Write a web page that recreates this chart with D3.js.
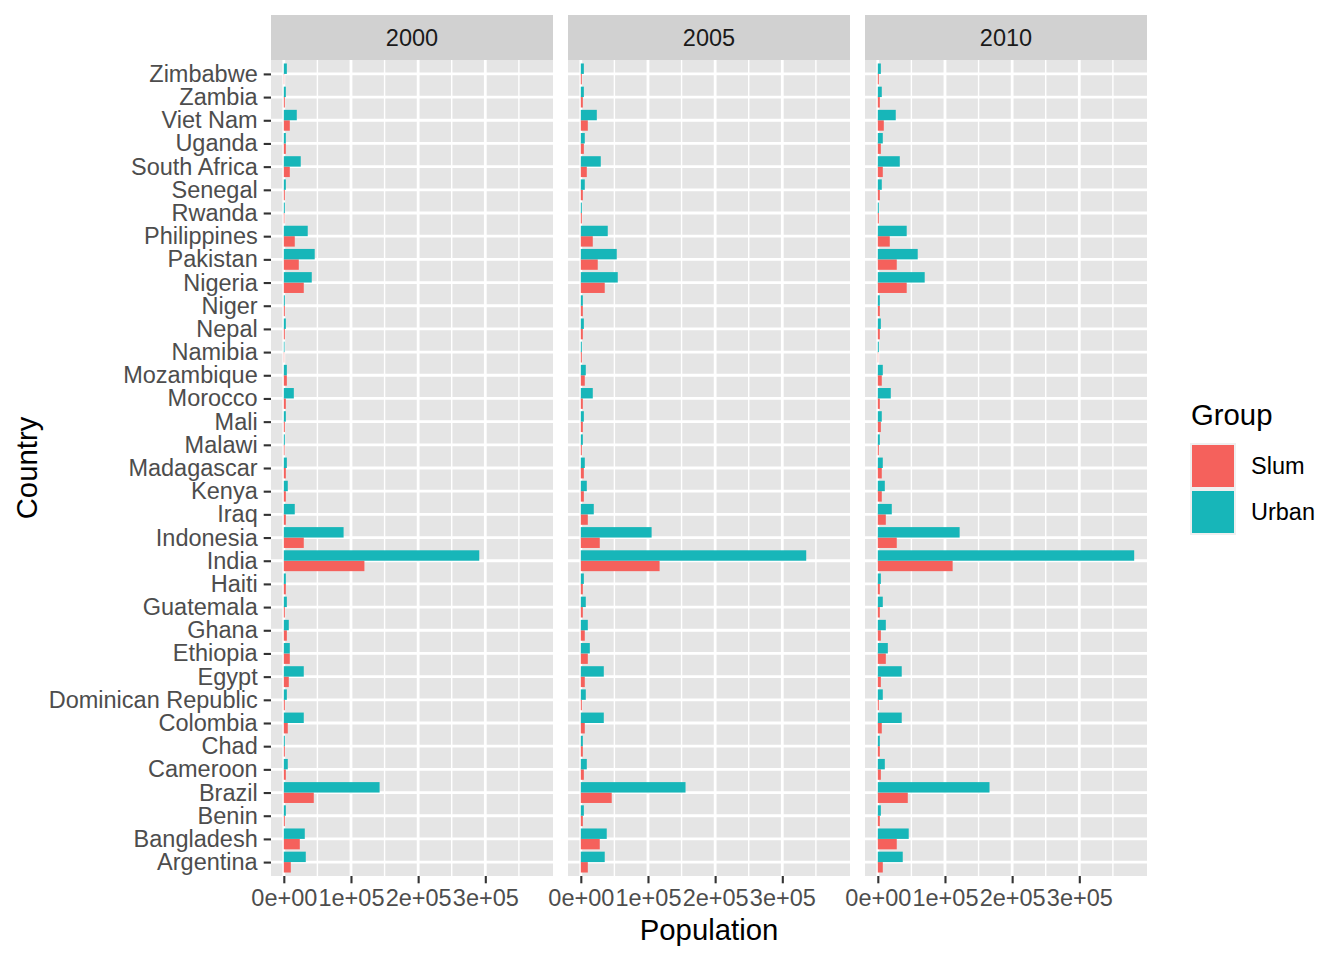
<!DOCTYPE html>
<html><head><meta charset="utf-8">
<script src="https://cdn.jsdelivr.net/npm/d3@7"></script>
<style>body{margin:0;background:#fff;} svg{display:block;font-family:"Liberation Sans",Arial,sans-serif;}</style>
</head><body>
<svg id="chart" width="1344" height="960"></svg>
<script>
const countries = ["Argentina","Bangladesh","Benin","Brazil","Cameroon","Chad","Colombia","Dominican Republic","Egypt","Ethiopia","Ghana","Guatemala","Haiti","India","Indonesia","Iraq","Kenya","Madagascar","Malawi","Mali","Morocco","Mozambique","Namibia","Nepal","Niger","Nigeria","Pakistan","Philippines","Rwanda","Senegal","South Africa","Uganda","Viet Nam","Zambia","Zimbabwe"];
const years = ["2000","2005","2010"];
const groups = ["Slum","Urban"];
const slum2000  = [10400,23800,1500,44600,3000,1500,5900,1500,7400,8900,4500,1500,3000,120000,29700,3000,3000,3000,1000,1500,3000,4500,500,1500,1500,29700,22300,16300,800,1500,8900,3000,8900,1500,500];
const urban2000 = [32700,31200,3000,142600,5900,1500,29700,4500,29700,8900,7400,4500,3000,291000,89000,16300,5900,4500,1500,3000,14900,4500,1000,3000,1500,41600,46000,35600,1500,3000,25200,3000,19300,3000,4500];
const slum2005  = [10400,28200,3000,46000,4500,3000,5900,1500,5900,10400,5900,3000,3000,117300,28200,10400,4500,4500,1500,3000,3000,5900,1500,3000,3000,35600,25200,17800,1500,3000,8900,4500,10400,3000,1500];
const urban2005 = [35600,38600,4500,155900,8900,3000,34200,7400,34200,13400,10400,7400,4500,335600,105400,19300,8900,5900,3000,4500,17800,7400,1500,4500,3000,55000,53500,40100,1500,5900,29700,5900,23800,4500,4500];
const slum2010  = [7400,28200,3000,44600,4500,3000,5900,1500,4500,11900,4500,3000,3000,111400,28200,11900,5900,5900,1500,4500,3000,5900,500,3000,3000,43000,28200,17800,1500,3000,7400,4500,8900,3000,1500];
const urban2010 = [37100,46000,4500,166300,10400,3000,35600,7400,35600,14900,11900,7400,4500,381700,121800,20800,10400,7400,3000,5900,19300,7400,1500,4500,3000,69800,59400,43000,1500,5900,32700,7400,26700,5900,4500];
const xTicks = [0,100000,200000,300000];
const xTickLabels = ["0e+00","1e+05","2e+05","3e+05"];
const xMinor = [50000,150000,250000,350000];

(function(){
const seriesByYear = {
  "2000": {Slum: slum2000, Urban: urban2000},
  "2005": {Slum: slum2005, Urban: urban2005},
  "2010": {Slum: slum2010, Urban: urban2010}
};
const colors = d3.scaleOrdinal().domain(groups).range(["#F5615C","#17B6B9"]);

const svg = d3.select("#chart");
const panelW = 282, gap = 15, left0 = 271, pTop = 60, pBottom = 876, stripTop = 15;
const maxV = d3.max([urban2000,urban2005,urban2010,slum2000,slum2005,slum2010].flat());
const x = d3.scaleLinear().domain([-0.05*maxV, 1.05*maxV]).range([0, panelW]);
const n = countries.length;
const yPos = d3.scaleLinear().domain([0.4, n + 0.6]).range([pBottom, pTop]);
const yIdx = c => countries.indexOf(c) + 1;
const axisText = "#4D4D4D";
const ff = "'Liberation Sans',Arial,sans-serif";

years.forEach((yr, pi) => {
  const px = left0 + pi*(panelW+gap);
  const g = svg.append("g").attr("transform", `translate(${px},0)`);
  g.append("rect").attr("x",0).attr("y",stripTop).attr("width",panelW).attr("height",pTop-stripTop).attr("fill","#D1D1D1");
  g.append("text").attr("x",panelW/2).attr("y",(stripTop+pTop)/2).attr("dy","0.35em")
    .attr("text-anchor","middle").attr("font-size",23.5).attr("fill","#1A1A1A").text(yr);
  g.append("rect").attr("x",0).attr("y",pTop).attr("width",panelW).attr("height",pBottom-pTop).attr("fill","#E5E5E5");
  g.selectAll(".minor").data(xMinor).join("line")
    .attr("x1",d=>x(d)).attr("x2",d=>x(d)).attr("y1",pTop).attr("y2",pBottom)
    .attr("stroke","#fff").attr("stroke-width",1.4);
  g.selectAll(".majx").data(xTicks).join("line")
    .attr("x1",d=>x(d)).attr("x2",d=>x(d)).attr("y1",pTop).attr("y2",pBottom)
    .attr("stroke","#fff").attr("stroke-width",2.8);
  g.selectAll(".majy").data(countries).join("line")
    .attr("x1",0).attr("x2",panelW).attr("y1",d=>yPos(yIdx(d))).attr("y2",d=>yPos(yIdx(d)))
    .attr("stroke","#fff").attr("stroke-width",2.8);
  const bars = [];
  groups.forEach((grp, gi) => {
    seriesByYear[yr][grp].forEach((v, i) => bars.push({country: countries[i], group: grp, gi, value: v}));
  });
  g.selectAll(".bar").data(bars).join("rect")
    .attr("x", d => x(Math.min(0,d.value)))
    .attr("width", d => Math.abs(x(d.value)-x(0)))
    .attr("y", d => yPos(yIdx(d.country) + d.gi*0.45))
    .attr("height", d => yPos(0) - yPos(0.45))
    .attr("fill", d => colors(d.group));
  const xa = g.append("g").attr("transform",`translate(0,${pBottom})`)
    .call(d3.axisBottom(x).tickValues(xTicks).tickFormat((d,i)=>xTickLabels[i]).tickSize(7.3).tickPadding(6));
  xa.select(".domain").remove();
  xa.selectAll(".tick line").attr("stroke","#333").attr("stroke-width",2.1);
  xa.selectAll(".tick text").attr("font-size",23.5).attr("fill",axisText)
    .attr("font-family",ff).attr("dy","0.71em");
  if (pi === 0) {
    const yScaleBand = d3.scalePoint().domain(countries).range([yPos(1), yPos(n)]);
    const ya = g.append("g").call(d3.axisLeft(yScaleBand).tickSize(7.3).tickPadding(6));
    ya.select(".domain").remove();
    ya.selectAll(".tick line").attr("stroke","#333").attr("stroke-width",2.1);
    ya.selectAll(".tick text").attr("font-size",23.5).attr("fill",axisText)
      .attr("font-family",ff);
  }
});

const plotL = left0, plotR = left0 + 3*panelW + 2*gap;
svg.append("text").attr("x",(plotL+plotR)/2).attr("y",940).attr("text-anchor","middle")
  .attr("font-size",29.3).attr("fill","#000").text("Population");
svg.append("text").attr("transform",`translate(37,${(pTop+pBottom)/2}) rotate(-90)`).attr("text-anchor","middle")
  .attr("font-size",29.3).attr("fill","#000").text("Country");

const lg = svg.append("g").attr("transform","translate(1190,0)");
lg.append("text").attr("x",1).attr("y",425).attr("font-size",29.3).attr("fill","#000").text("Group");
groups.forEach((grp, i) => {
  const ky = 443 + i*46;
  lg.append("rect").attr("x",0).attr("y",ky).attr("width",46).attr("height",46).attr("fill","#EFEFEF");
  lg.append("rect").attr("x",2).attr("y",ky+2).attr("width",42).attr("height",42).attr("fill",colors(grp));
  lg.append("text").attr("x",61).attr("y",ky+23).attr("dy","0.35em").attr("font-size",23.5).attr("fill","#000").text(grp);
});
})();
</script>
</body></html>
